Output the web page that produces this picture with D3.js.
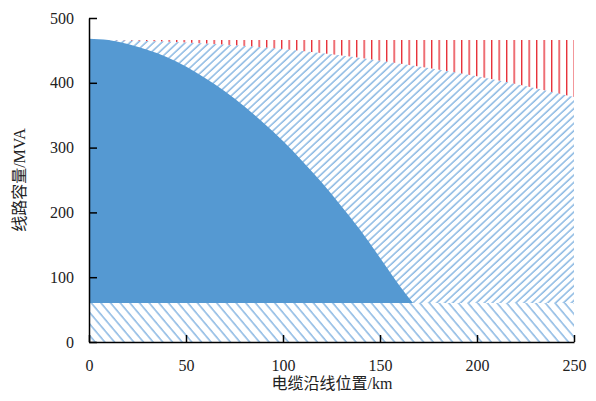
<!DOCTYPE html>
<html>
<head>
  <meta charset="utf-8">
  <title>line capacity</title>
  <style>
    body { margin: 0; background: #fff; }
  </style>
</head>
<body>
  <div id="chart"></div>
  <script src="https://d3js.org/d3.v7.min.js"></script>
  <script>
  // 实线蓝色区域（上边界曲线）
  var solidX = [0, 10, 20, 30, 40, 50, 60, 70, 80, 90, 100, 110, 120, 130, 140, 150, 160, 167];
  var solidY = [468, 466, 460, 451, 440, 425, 407, 387, 364, 338, 310, 279, 246, 210, 172, 130, 87, 60];
  // 斜线区域上边界
  var hatchX = [0, 25, 50, 75, 100, 125, 150, 175, 200, 225, 250];
  var hatchY = [466, 465, 462, 458, 452, 444, 434, 423, 410, 395, 378];
  // 红色竖线上限 / 底部区域上限
  var redTop = 466;
  var baseTop = 60;
  var xTicks = [0, 50, 100, 150, 200, 250];
  var yTicks = [0, 100, 200, 300, 400, 500];

  var W = 596, H = 401;
  var svg = d3.select("#chart").append("svg")
    .attr("width", W)
    .attr("height", H);

  var x = d3.scaleLinear().domain([0, 250]).range([89, 574]);
  var y = d3.scaleLinear().domain([0, 500]).range([342, 18]);

  var blue = "#5e9dd8";
  var defs = svg.append("defs");

  // 斜线 "/"
  defs.append("pattern")
    .attr("id", "hatchUp")
    .attr("patternUnits", "userSpaceOnUse")
    .attr("width", 5.4).attr("height", 10)
    .attr("patternTransform", "rotate(47)")
    .append("line")
    .attr("x1", 1).attr("y1", 0).attr("x2", 1).attr("y2", 10)
    .attr("stroke", blue).attr("stroke-width", 1.1);

  // 斜线 "\"
  defs.append("pattern")
    .attr("id", "hatchDown")
    .attr("patternUnits", "userSpaceOnUse")
    .attr("width", 7.4).attr("height", 10)
    .attr("patternTransform", "rotate(-40)")
    .append("line")
    .attr("x1", 1).attr("y1", 0).attr("x2", 1).attr("y2", 10)
    .attr("stroke", blue).attr("stroke-width", 1.1);

  // 红色竖线
  defs.append("pattern")
    .attr("id", "redLines")
    .attr("patternUnits", "userSpaceOnUse")
    .attr("x", 281).attr("width", 7.5).attr("height", 10)
    .append("line")
    .attr("x1", 0.7).attr("y1", 0).attr("x2", 0.7).attr("y2", 10)
    .attr("stroke", "#e6232d").attr("stroke-width", 1.3);

  var hatchData = hatchX.map(function(d, i){ return {x: d, y: hatchY[i]}; });
  var solidData = solidX.map(function(d, i){ return {x: d, y: solidY[i]}; });

  // 底部区域 0-60
  svg.append("path")
    .datum([{x: 0}, {x: 250}])
    .attr("d", d3.area()
      .x(function(d){ return x(d.x); })
      .y0(y(0))
      .y1(y(baseTop)))
    .attr("fill", "url(#hatchDown)");

  // 红色区域
  svg.append("path")
    .datum(hatchData)
    .attr("d", d3.area()
      .curve(d3.curveMonotoneX)
      .x(function(d){ return x(d.x); })
      .y0(function(d){ return y(d.y); })
      .y1(y(redTop)))
    .attr("fill", "url(#redLines)");

  // 斜线区域
  svg.append("path")
    .datum(hatchData)
    .attr("d", d3.area()
      .curve(d3.curveMonotoneX)
      .x(function(d){ return x(d.x); })
      .y0(y(baseTop))
      .y1(function(d){ return y(d.y); }))
    .attr("fill", "url(#hatchUp)");

  // 实线蓝色区域
  svg.append("path")
    .datum(solidData)
    .attr("d", d3.area()
      .curve(d3.curveMonotoneX)
      .x(function(d){ return x(d.x); })
      .y0(y(baseTop))
      .y1(function(d){ return y(d.y); }))
    .attr("fill", "#5599d2");

  var tickFont = "'Liberation Serif', 'Times New Roman', serif";

  var gx = svg.append("g")
    .attr("transform", "translate(0," + y(0) + ")")
    .call(d3.axisBottom(x).tickValues(xTicks).tickSizeInner(-7).tickSizeOuter(0).tickPadding(18));
  var gy = svg.append("g")
    .attr("transform", "translate(" + x(0) + ",0)")
    .call(d3.axisLeft(y).tickValues(yTicks).tickSizeInner(-8).tickSizeOuter(0).tickPadding(15));

  svg.selectAll(".domain, .tick line")
    .attr("stroke", "#000")
    .attr("stroke-width", 1.5);
  svg.selectAll(".tick text")
    .attr("font-family", tickFont)
    .attr("font-size", "16px")
    .attr("fill", "#222");

  svg.append("text")
    .attr("x", 332).attr("y", 389)
    .attr("text-anchor", "middle")
    .attr("font-family", "'Liberation Serif', 'Noto Sans CJK SC', serif")
    .attr("font-size", "16px")
    .attr("fill", "#222")
    .text("电缆沿线位置/km");

  svg.append("text")
    .attr("transform", "translate(25,180) rotate(-90)")
    .attr("text-anchor", "middle")
    .attr("font-family", "'Liberation Serif', 'Noto Sans CJK SC', serif")
    .attr("font-size", "16px")
    .attr("fill", "#222")
    .text("线路容量/MVA");
  </script>
</body>
</html>
